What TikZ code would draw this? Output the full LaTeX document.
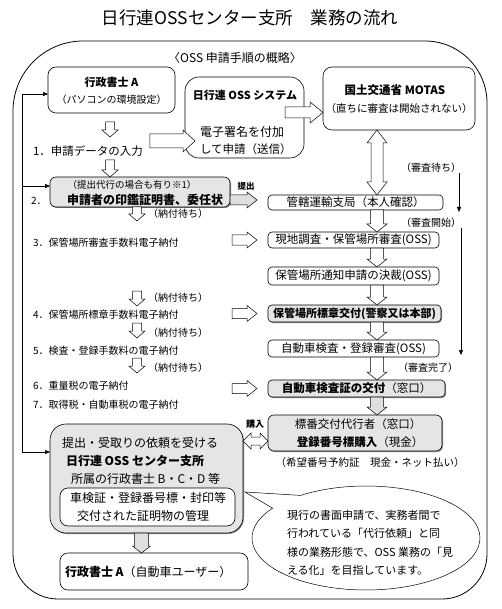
\documentclass[tikz,border=0pt]{standalone}
\usepackage{fontspec}
\setmainfont{Noto Sans CJK JP}
\usetikzlibrary{calc,arrows.meta,shadows}

\newcommand{\VArrow}[6]{\draw[#1] let \p1=#2, \p2=#3 in
 (\x1-#4pt,\y1) -- (\x1+#4pt,\y1) -- (\x1+#4pt,\y2+#6pt) -- (\x1+#5pt,\y2+#6pt) -- (\x1,\y2) -- (\x1-#5pt,\y2+#6pt) -- (\x1-#4pt,\y2+#6pt) -- cycle;}
\newcommand{\HArrow}[6]{\draw[#1] let \p1=#2, \p2=#3 in
 (\x1,\y1+#4pt) -- (\x2-#6pt,\y1+#4pt) -- (\x2-#6pt,\y1+#5pt) -- (\x2,\y1) -- (\x2-#6pt,\y1-#5pt) -- (\x2-#6pt,\y1-#4pt) -- (\x1,\y1-#4pt) -- cycle;}
\newcommand{\VDbl}[6]{\draw[#1] let \p1=#2, \p2=#3 in
 (\x1,\y1) -- (\x1+#5pt,\y1-#6pt) -- (\x1+#4pt,\y1-#6pt) -- (\x1+#4pt,\y2+#6pt) -- (\x1+#5pt,\y2+#6pt) -- (\x1,\y2) -- (\x1-#5pt,\y2+#6pt) -- (\x1-#4pt,\y2+#6pt) -- (\x1-#4pt,\y1-#6pt) -- (\x1-#5pt,\y1-#6pt) -- cycle;}
\newcommand{\HDbl}[6]{\draw[#1] let \p1=#2, \p2=#3 in
 (\x1,\y1) -- (\x1+#6pt,\y1+#5pt) -- (\x1+#6pt,\y1+#4pt) -- (\x2-#6pt,\y1+#4pt) -- (\x2-#6pt,\y1+#5pt) -- (\x2,\y1) -- (\x2-#6pt,\y1-#5pt) -- (\x2-#6pt,\y1-#4pt) -- (\x1+#6pt,\y1-#4pt) -- (\x1+#6pt,\y1-#5pt) -- cycle;}

\begin{document}
\begin{tikzpicture}[x=1pt,y=-1pt,
 every node/.style={inner sep=0pt, outer sep=0pt},
 box/.style={draw, line width=0.6pt, rounded corners=#1},
 box/.default=5pt,
 gbox/.style={box=#1, fill=gray!20, drop shadow={shadow xshift=1pt, shadow yshift=-1pt, opacity=0.7, fill=gray!70!black}},
 gbox/.default=5pt,
 harr/.style={draw, line width=0.5pt, fill=white},
 garr/.style={draw, line width=0.5pt, fill=gray!25},
 tarr/.style={line width=0.5pt, -{Triangle[length=5pt,width=4pt]}},
 ft/.style={font=\fontsize{#1}{#1}\selectfont},
]
\useasboundingbox (0,0) rectangle (502,609);

% title and frame
\node[ft=17.5] (title) at (250,18) {日行連OSSセンター支所　業務の流れ};
\draw[line width=0.8pt] (83,41) -- (425,41) arc[start angle=-90, end angle=0, radius=62]
  -- (487,554) arc[start angle=0, end angle=90, radius=45]
  -- (58,599) arc[start angle=90, end angle=180, radius=45]
  -- (13,111) arc[start angle=180, end angle=270, radius=70] -- cycle;
\node[ft=12] (sub) at (235,58) {〈OSS 申請手順の概略〉};

% top boxes
\node[box=8pt, minimum width=127pt, minimum height=46pt] (gA) at (111.5,90) {};
\node[ft=11] (gAt) at (111.5,82) {\bfseries 行政書士 A};
\node[ft=10] (gAs) at (111.5,100) {（パソコンの環境設定）};

\node[box=14pt, minimum width=119pt, minimum height=81pt] (oss) at (244.5,117.5) {};
\node[ft=11] (osst) at (245,95) {\bfseries 日行連 OSS システム};
\node[ft=12, anchor=west] (oss1) at (200,132) {電子署名を付加};
\node[ft=11.5, anchor=west] (oss2) at (200,149) {して申請（送信）};

\node[box=9pt, minimum width=152pt, minimum height=63pt] (motas) at (399,98.5) {};
\node[ft=11.5] (motast) at (395,90) {\bfseries 国土交通省 MOTAS};
\node[ft=10.5] (motass) at (399,109) {（直ちに審査は開始されない）};

% left steps
\node[ft=11.5, anchor=west] (s1) at (33,151) {1．申請データの入力};
\node[ft=10, anchor=west] (s2) at (31,201) {2．};
\node[gbox=6pt, minimum width=180pt, minimum height=30pt] (b2) at (140,192) {};
\node[ft=9.5] (b2a) at (132,185) {（提出代行の場合も有り※1）};
\node[ft=12] (b2b) at (145,200) {\bfseries 申請者の印鑑証明書、委任状};
\node[ft=8.5] (teishutsu) at (246,186) {\bfseries 提出};

\node[ft=10, anchor=west] (w1) at (148,214) {（納付待ち）};
\node[ft=10, anchor=west] (s3) at (33,243) {3．保管場所審査手数料電子納付};
\node[ft=10, anchor=west] (w2) at (148,298) {（納付待ち）};
\node[ft=10, anchor=west] (s4) at (33,315) {4．保管場所標章手数料電子納付};
\node[ft=10, anchor=west] (w3) at (148,333) {（納付待ち）};
\node[ft=10, anchor=west] (s5) at (33,351) {5．検査・登録手数料の電子納付};
\node[ft=10, anchor=west] (w4) at (148,368) {（納付待ち）};
\node[ft=10, anchor=west] (s6) at (33,386) {6．重量税の電子納付};
\node[ft=10, anchor=west] (s7) at (33,405) {7．取得税・自動車税の電子納付};

% right column
\node[box=4pt, minimum width=175pt, minimum height=15pt, ft=11.5] (r1) at (355.5,202.5) {管轄運輸支局（本人確認）};
\node[box=4pt, minimum width=171pt, minimum height=16pt, ft=11.5] (r2) at (353.5,240) {現地調査・保管場所審査(OSS)};
\node[box=4pt, minimum width=171pt, minimum height=18pt, ft=11.5] (r3) at (353.5,276) {保管場所通知申請の決裁(OSS)};
\node[gbox=4pt, minimum width=173pt, minimum height=17pt, ft=11] (r4) at (354.5,313.5) {\bfseries 保管場所標章交付(警察又は本部)};
\node[box=4pt, minimum width=171pt, minimum height=17pt, ft=11.5] (r5) at (353.5,348.5) {自動車検査・登録審査(OSS)};
\node[gbox=4pt, minimum width=177pt, minimum height=17pt, ft=11.5] (r6) at (356.5,388.5) {{\bfseries 自動車検査証の交付}（窓口）};
\node[gbox=6pt, minimum width=174pt, minimum height=36pt] (r7) at (355,433) {};
\node[ft=11.5] (r7a) at (358,424) {標番交付代行者（窓口）};
\node[ft=11.5] (r7b) at (360,442) {{\bfseries 登録番号標購入}（現金）};
\node[ft=10.5] (kibou) at (370,463) {（希望番号予約証　現金・ネット払い）};
\node[ft=9] (kounyu) at (255,424) {\bfseries 購入};

\node[ft=10] (shinsa1) at (431,168) {（審査待ち）};
\node[ft=10] (shinsa2) at (431,223) {（審査開始）};
\node[ft=10] (shinsa3) at (428,368) {（審査完了）};

% centre box
\node[gbox=16pt, minimum width=193pt, minimum height=109pt] (cen) at (146.5,478.5) {};
\node[ft=12, anchor=west] (cen1) at (62,443) {提出・受取りの依頼を受ける};
\node[ft=12, anchor=west] (cen2) at (66,461) {\bfseries 日行連 OSS センター支所};
\node[ft=12, anchor=west] (cen3) at (71,479) {所属の行政書士 B・C・D 等};
\node[box=8pt, fill=white, minimum width=175pt, minimum height=38pt] (inner) at (147.5,507) {};
\node[ft=12, anchor=west] (in1) at (70,498) {車検証・登録番号標・封印等};
\node[ft=12, anchor=west] (in2) at (77,516) {交付された証明物の管理};

\node[box=8pt, fill=white, minimum width=188pt, minimum height=37pt] (gA2) at (154,571.5) {};
\node[ft=12, anchor=west] (gA2t) at (65,572) {{\bfseries 行政書士 A}（自動車ユーザー）};

% speech bubble
\draw[line width=0.5pt, fill=white] (245,492) coordinate (tip) -- (300.6,495.4) arc[start angle=235, end angle=575, x radius=114, y radius=52] -- cycle;
\node[ft=11, anchor=west] (bb1) at (287,515) {現行の書面申請で、実務者間で};
\node[ft=11, anchor=west] (bb2) at (287,533) {行われている「代行依頼」と同};
\node[ft=11, anchor=west] (bb3) at (287,552) {様の業務形態で、OSS 業務の「見};
\node[ft=11, anchor=west] (bb4) at (287,570) {える化」を目指しています。};

% coordinates for arrow axes
\coordinate (ax1) at (110,0);
\coordinate (ax2) at (137,0);
\coordinate (rx) at (377,0);
\coordinate (cx) at (141.5,0);

% hollow arrows, left column
\VArrow{harr}{($(gA.south -| ax1)+(0,9)$)}{(110,137)}{4.5}{8}{7}
\VArrow{harr}{(110,160)}{(b2.north -| ax1)}{4.5}{8}{7}
\VArrow{harr}{(b2.south -| ax2)}{(137,221)}{4.5}{8}{7}
\VArrow{harr}{(137,291)}{(137,306)}{4.5}{8}{7}
\VArrow{harr}{(137,323)}{(137,338)}{4.5}{8}{7}
\VArrow{harr}{(137,358)}{(137,373)}{4.5}{8}{7}

% horizontal arrows
\HArrow{harr}{($(s1.east)+(7,-10)$)}{($(oss.west)+(10,0)$)}{7}{11}{12}
\HArrow{harr}{($(oss.east)+(-19,-5)$)}{(motas.west)}{5.5}{10.5}{13}
\HArrow{garr}{($(b2.east)+(0,8)$)}{($(r1.west)+(-11,0)$)}{5}{8}{10}
\HArrow{harr}{($(r2.west)+(-36,0)$)}{($(r2.west)+(-11,0)$)}{5}{8}{10}
\HArrow{harr}{($(r4.west)+(-36,0)$)}{($(r4.west)+(-11,0)$)}{5}{8}{10}
\HArrow{harr}{($(r6.west)+(-36,0)$)}{($(r6.west)+(-11,0)$)}{5}{8}{10}
\HDbl{harr}{($(r7.west)+(-25,8)$)}{(r7.west)}{4}{8}{8}

% right column arrows
\VDbl{harr}{(motas.south -| rx)}{(r1.north -| rx)}{6}{10}{13}
\VArrow{harr}{(r1.south -| rx)}{(r2.north -| rx)}{6.5}{10}{8}
\VArrow{harr}{(r2.south -| rx)}{(r3.north -| rx)}{6.5}{10}{8}
\VArrow{harr}{(r3.south -| rx)}{(r4.north -| rx)}{6.5}{10}{8}
\VArrow{harr}{(r4.south -| rx)}{(r5.north -| rx)}{6.5}{10}{8}
\VArrow{harr}{(r5.south -| rx)}{(r6.north -| rx)}{6.5}{10}{8}
\VArrow{garr}{(r6.south -| rx)}{(r7.north -| rx)}{6.5}{10}{8}
\VArrow{garr}{(cen.south -| cx)}{(gA2.north -| cx)}{7}{9}{7}

% thin status arrows
\coordinate (t1a) at (459,173);
\coordinate (t1b) at (459,212);
\coordinate (t2a) at (461,228);
\coordinate (t2b) at (461,355);
\draw[tarr] (t1a) -- (t1b);
\draw[tarr] (t2a) -- (t2b);

% feedback line
\coordinate (fbTop) at (22,94);
\coordinate (fbMid) at (22,186);
\coordinate (fbBot) at (22,452);
\draw[line width=0.5pt] (fbTop) -- (fbBot);
\draw[tarr] (fbTop) -- (fbTop -| gA.west);
\draw[tarr] (fbMid) -- (fbMid -| b2.west);
\draw[tarr] (fbBot) -- (fbBot -| cen.west);
\end{tikzpicture}
\end{document}
